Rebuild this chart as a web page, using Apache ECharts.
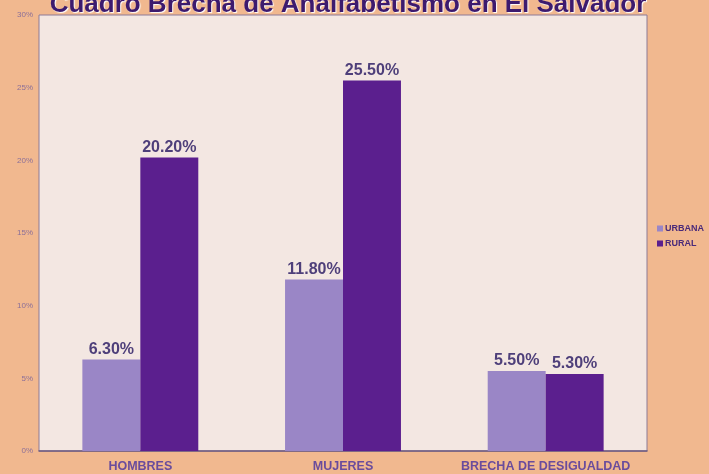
<!DOCTYPE html>
<html><head><meta charset="utf-8">
<script src="https://cdn.jsdelivr.net/npm/echarts@6/dist/echarts.min.js"></script>
<style>html,body{margin:0;padding:0;background:#f1b88f}#c{width:709px;height:474px}</style>
</head><body><div id="c"></div>
<script>
const categories = ['HOMBRES', 'MUJERES', 'BRECHA DE DESIGUALDAD'];
const urbana = [6.3, 11.8, 5.5];
const rural = [20.2, 25.5, 5.3];
const seriesNames = ['URBANA', 'RURAL'];
const chart = echarts.init(document.getElementById('c'));
const lbl = {
  show: true, position: 'top', distance: 2,
  formatter: p => p.value.toFixed(2) + '%',
  fontFamily: 'Liberation Sans, Arial', fontWeight: 'bold', fontSize: 16, color: '#4e3f7a'
};
chart.setOption({
  backgroundColor: '#f1b88f',
  title: {
    text: 'Cuadro Brecha de Analfabetismo en El Salvador',
    left: 343, textAlign: 'center', top: -13,
    textStyle: { fontFamily: 'Liberation Sans, Arial', fontWeight: 'bold', fontSize: 26, color: '#3d1a6e',
      textShadowColor: '#ffffff', textShadowBlur: 1, textShadowOffsetX: 1, textShadowOffsetY: 1 }
  },
  legend: {
    data: seriesNames, orient: 'vertical', left: 652, top: 219,
    icon: 'rect', itemWidth: 6, itemHeight: 6, itemGap: 6,
    textStyle: { fontFamily: 'Liberation Sans, Arial', fontWeight: 'bold', fontSize: 9, color: '#4a2a7a', padding: [0, 0, 0, -3] }
  },
  grid: { left: 39, right: 62, top: 15, bottom: 23, show: true, backgroundColor: '#f3e7e2', borderColor: '#8d7a96', borderWidth: 1 },
  xAxis: {
    type: 'category', data: categories,
    axisTick: { show: false },
    axisLine: { lineStyle: { color: '#6d5a80', width: 1.5 } },
    axisLabel: { interval: 0, hideOverlap: false, fontFamily: 'Liberation Sans, Arial', fontWeight: 'bold', fontSize: 12.5, color: '#6a4c9c', margin: 9 }
  },
  yAxis: {
    type: 'value', min: 0, max: 30, interval: 5,
    splitLine: { show: false },
    axisLine: { show: false }, axisTick: { show: false },
    axisLabel: { formatter: '{value}%', fontFamily: 'Liberation Sans, Arial', fontSize: 8, color: '#8b6f98', margin: 6 }
  },
  series: [
    { name: seriesNames[0], type: 'bar', data: urbana, barWidth: '28.6%', barGap: '0%', itemStyle: { color: '#9a86c6' }, label: lbl },
    { name: seriesNames[1], type: 'bar', data: rural, barWidth: '28.6%', itemStyle: { color: '#5b1f8e' }, label: lbl }
  ]
});
</script></body></html>
